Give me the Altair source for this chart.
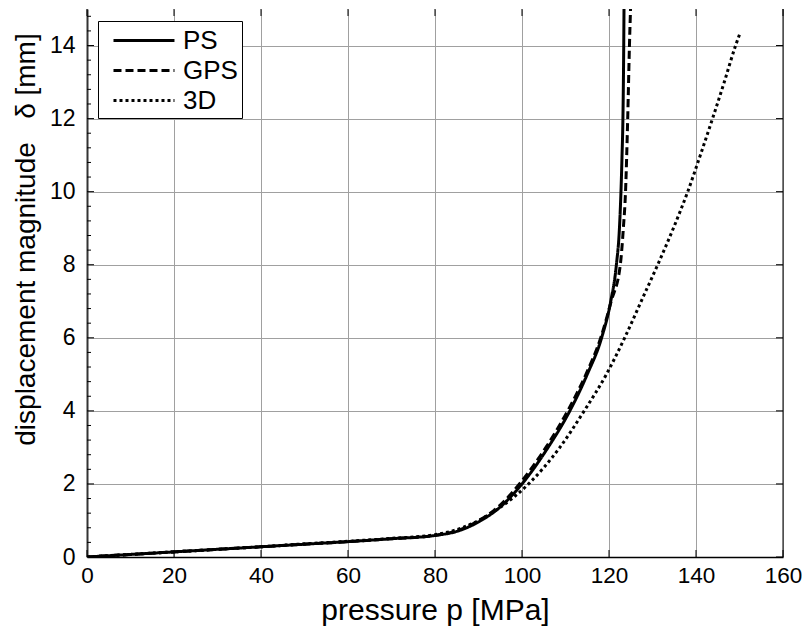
import altair as alt
import pandas as pd

# ---- data ----
ps_p = [0, 10, 20, 30, 40, 50, 60, 70, 80, 85, 90, 95, 100, 106, 111, 115, 118.3, 120.4, 121.7, 122.4, 122.75, 123.0, 123.2, 123.35, 123.45]
ps_d = [0, 0.07, 0.14, 0.21, 0.28, 0.35, 0.42, 0.5, 0.59, 0.7, 0.96, 1.37, 2.0, 3.0, 4.0, 5.0, 6.0, 7.0, 8.0, 9.0, 10.0, 11.0, 12.0, 13.5, 15.0]

gps_p = [0, 10, 20, 30, 40, 50, 60, 70, 80, 85, 90, 95, 99.4, 105.5, 110.5, 114.7, 118.1, 120.5, 122.6, 123.3, 123.8, 124.3, 124.7, 124.95]
gps_d = [0, 0.07, 0.14, 0.21, 0.28, 0.35, 0.42, 0.5, 0.59, 0.72, 0.99, 1.42, 2.0, 3.0, 4.0, 5.0, 6.0, 7.0, 8.0, 9.0, 10.0, 12.0, 14.0, 15.0]

d3_p = [0, 10, 20, 30, 40, 50, 60, 70, 80, 85, 90, 95, 101.5, 108.7, 114.3, 119.4, 123.6, 127.4, 131.2, 134.8, 138.1, 141.0, 143.8, 146.5, 149.1, 150.0]
d3_d = [0, 0.07, 0.14, 0.21, 0.28, 0.36, 0.43, 0.51, 0.61, 0.75, 1.0, 1.36, 2.0, 3.0, 4.0, 5.0, 6.0, 7.0, 8.0, 9.0, 10.0, 11.0, 12.0, 13.0, 14.0, 14.3]

series = ["PS", "GPS", "3D"]
x_ticks = [0, 20, 40, 60, 80, 100, 120, 140, 160]
y_ticks = [0, 2, 4, 6, 8, 10, 12, 14]
y_minor = [round(0.4 * i, 1) for i in range(1, 38) if round(0.4 * i, 1) % 2 != 0]

W, H = 696, 548

rows = []
for name, ps, ds in [("PS", ps_p, ps_d), ("GPS", gps_p, gps_d), ("3D", d3_p, d3_d)]:
    for p, d in zip(ps, ds):
        rows.append({"series": name, "p": p, "d": d})
df = pd.DataFrame(rows)

xs = alt.Scale(domain=[0, 160], nice=False, zero=False)
ys = alt.Scale(domain=[0, 15], nice=False, zero=False)

font = "Liberation Sans"

base_x = alt.X("p:Q", scale=xs,
               axis=alt.Axis(values=x_ticks, title="pressure p [MPa]", grid=True, ticks=False,
                             labelFlush=False, labelPadding=7, titlePadding=9,
                             domainColor="black", domainWidth=1.5,
                             gridColor="#a0a0a0", gridWidth=1,
                             labelFont=font, labelFontSize=22.5, labelColor="black",
                             titleFont=font, titleFontSize=30, titleFontWeight="normal", titleColor="black"))
base_y = alt.Y("d:Q", scale=ys,
               axis=alt.Axis(values=y_ticks, title="displacement magnitude\u00a0\u00a0 δ [mm]", grid=True, ticks=False,
                             labelFlush=False, labelPadding=12, domainColor="#333333", domainWidth=2,
                             gridColor="#a0a0a0", gridWidth=1,
                             labelFont=font, labelFontSize=23, labelColor="black",
                             titleFont=font, titleFontSize=28, titleFontWeight="normal", titleColor="black",
                             titleX=-53, titleY=230, titleAngle=270, titleAlign="center",
                             titleBaseline="alphabetic"))

lines = alt.Chart(df).mark_line(color="black", strokeWidth=3, clip=True, interpolate="monotone").encode(
    x=base_x,
    y=base_y,
    strokeDash=alt.StrokeDash("series:N",
                              scale=alt.Scale(domain=series, range=[[1, 0], [8, 4], [3, 3]]),
                              legend=alt.Legend(title=None, orient="none", legendX=11, legendY=12,
                                                symbolType="M-0.286,0H4.07", symbolSize=784,
                                                symbolStrokeWidth=3, symbolStrokeColor="black",
                                                labelFont=font, labelFontSize=26, labelColor="black",
                                                labelOffset=50, padding=4, rowPadding=1,
                                                strokeColor="black", fillColor="white")),
)

minor_df = pd.DataFrame({"d": y_minor})
major_y_df = pd.DataFrame({"d": y_ticks})
major_x_df = pd.DataFrame({"p": x_ticks})

minor_left = alt.Chart(minor_df).mark_rule(color="black", strokeWidth=1).encode(
    y=alt.Y("d:Q", scale=ys), x=alt.value(0), x2=alt.value(4))
major_left = alt.Chart(major_y_df).mark_rule(color="black", strokeWidth=1).encode(
    y=alt.Y("d:Q", scale=ys), x=alt.value(0), x2=alt.value(7))
major_right = alt.Chart(major_y_df).mark_rule(color="black", strokeWidth=1).encode(
    y=alt.Y("d:Q", scale=ys), x=alt.value(W - 7), x2=alt.value(W))
bottom_ticks = alt.Chart(major_x_df).mark_rule(color="black", strokeWidth=1).encode(
    x=alt.X("p:Q", scale=xs), y=alt.value(H), y2=alt.value(H - 7))
top_ticks = alt.Chart(major_x_df).mark_rule(color="black", strokeWidth=1).encode(
    x=alt.X("p:Q", scale=xs), y=alt.value(0), y2=alt.value(7))
right_frame = alt.Chart(major_x_df.head(1)).mark_rule(color="black", strokeWidth=1).encode(
    x=alt.value(W), y=alt.value(0), y2=alt.value(H))

chart = alt.layer(
    minor_left, major_left, major_right, bottom_ticks, top_ticks, lines, right_frame
).properties(
    width=W, height=H,
    background="white",
    autosize=alt.AutoSizeParams(type="none"),
    padding={"left": 79, "top": 1, "right": 19, "bottom": 72},
).configure_view(stroke=None)

chart.save("out.html", embed_options={"renderer": "svg", "actions": False})
